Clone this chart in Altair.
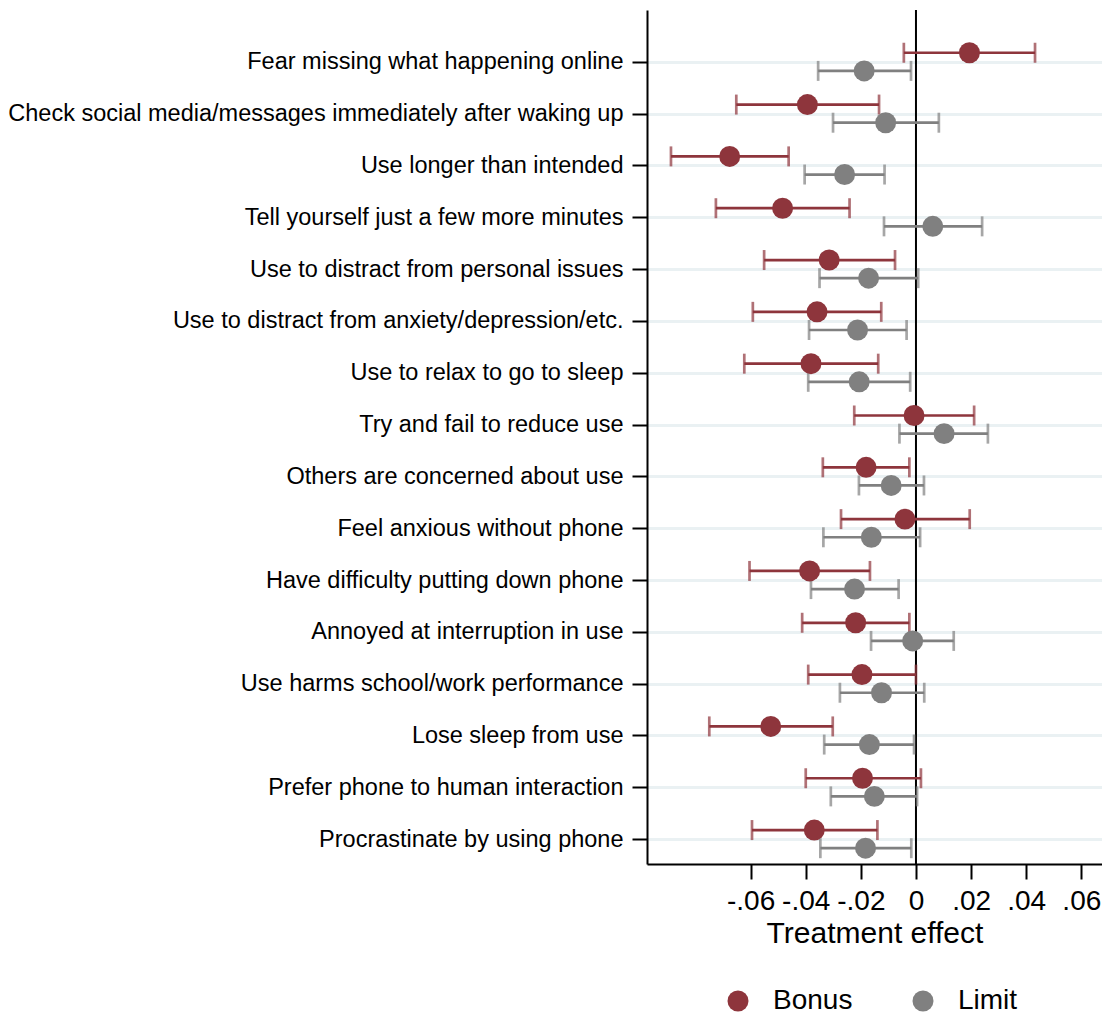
import json
import altair as alt
import pandas as pd

categories = [
    "Fear missing what happening online",
    "Check social media/messages immediately after waking up",
    "Use longer than intended",
    "Tell yourself just a few more minutes",
    "Use to distract from personal issues",
    "Use to distract from anxiety/depression/etc.",
    "Use to relax to go to sleep",
    "Try and fail to reduce use",
    "Others are concerned about use",
    "Feel anxious without phone",
    "Have difficulty putting down phone\u00a0",
    "Annoyed at interruption in use",
    "Use harms school/work performance",
    "Lose sleep from use",
    "Prefer phone to human interaction",
    "Procrastinate by using phone",
]

bonus_est = [0.0194, -0.0394, -0.0676, -0.0484, -0.0315, -0.0359, -0.0381, -0.0007,
             -0.0181, -0.0040, -0.0386, -0.0219, -0.0196, -0.0527, -0.0194, -0.0369]
bonus_lo = [-0.0044, -0.0652, -0.0889, -0.0726, -0.0551, -0.0592, -0.0623, -0.0224,
            -0.0338, -0.0272, -0.0604, -0.0413, -0.0391, -0.0750, -0.0400, -0.0595]
bonus_hi = [0.0432, -0.0134, -0.0462, -0.0241, -0.0076, -0.0126, -0.0137, 0.0211,
            -0.0024, 0.0195, -0.0167, -0.0024, 0.0000, -0.0302, 0.0018, -0.0140]

limit_est = [-0.0188, -0.0110, -0.0259, 0.0061, -0.0172, -0.0212, -0.0206, 0.0102,
             -0.0090, -0.0162, -0.0223, -0.0012, -0.0125, -0.0169, -0.0151, -0.0183]
limit_lo = [-0.0355, -0.0301, -0.0404, -0.0116, -0.0350, -0.0388, -0.0391, -0.0060,
            -0.0207, -0.0336, -0.0381, -0.0163, -0.0276, -0.0333, -0.0309, -0.0347]
limit_hi = [-0.0018, 0.0083, -0.0114, 0.0240, 0.0008, -0.0034, -0.0021, 0.0261,
            0.0029, 0.0015, -0.0063, 0.0137, 0.0030, -0.0007, 0.0004, -0.0017]

series_names = ["Bonus", "Limit"]
series_colors = ["#8E353C", "#808080"]
x_ticks = [-0.06, -0.04, -0.02, 0, 0.02, 0.04, 0.06]

DODGE = 0.175
FONT = "Liberation Sans"

rows = []
for name, est, lo, hi, off in [
    ("Bonus", bonus_est, bonus_lo, bonus_hi, -DODGE),
    ("Limit", limit_est, limit_lo, limit_hi, DODGE),
]:
    for i, c in enumerate(categories):
        rows.append(dict(item=c, idx=i, series=name, est=est[i], lo=lo[i], hi=hi[i], ypos=i + off))
df = pd.DataFrame(rows)

xscale = alt.Scale(domain=[-0.0976, 0.0675], nice=False, zero=False)
yscale = alt.Scale(domain=[-1.0, 15.48], reverse=True, nice=False, zero=False)
cscale = alt.Scale(domain=series_names, range=series_colors)

label_arr = json.dumps(categories, ensure_ascii=False)

x_axis = alt.Axis(
    values=x_ticks,
    labelExpr="datum.value == 0 ? '0' : (datum.value < 0 ? '-' : '') + replace(format(abs(datum.value), '.2f'), '0.', '.')",
    title="Treatment effect",
    titleFontSize=30, titleFont=FONT, titleFontWeight="normal", titleColor="black",
    titlePadding=3,
    labelFontSize=28, labelFont=FONT, labelColor="black", labelPadding=8,
    labelOverlap=False, labelFlush=False,
    tickSize=15, tickWidth=2, tickColor="black",
    domainColor="black", domainWidth=2, grid=False,
)
y_axis = alt.Axis(
    values=list(range(len(categories))),
    labelExpr=f"{label_arr}[round(datum.value)]",
    title=None,
    labelFontSize=23.5, labelFont=FONT, labelColor="black", labelPadding=9,
    labelOverlap=False, labelFlush=False, labelLimit=1000,
    tickSize=15, tickWidth=2, tickColor="black",
    domainColor="black", domainWidth=2,
    grid=True, gridColor="#EAF1F3", gridWidth=3,
)

legend = alt.Legend(
    title=None, orient="none", direction="horizontal",
    legendX=77, legendY=977,
    symbolType="circle", symbolSize=440, symbolOpacity=1,
    symbolStrokeWidth=0, symbolStrokeColor="transparent",
    labelFontSize=28, labelFont=FONT, labelColor="black",
    labelOffset=21, columnPadding=56,
)
color = alt.Color("series:N", scale=cscale, legend=legend)

base = alt.Chart(df)

zero = alt.Chart(pd.DataFrame({"z": [0]})).mark_rule(color="black", strokeWidth=2).encode(
    x=alt.X("z:Q", scale=xscale, axis=x_axis)
)

bars = base.mark_rule(strokeWidth=2.7).encode(
    x=alt.X("lo:Q", scale=xscale, axis=x_axis),
    x2="hi:Q",
    y=alt.Y("ypos:Q", scale=yscale, axis=y_axis),
    color=color,
)
caps_lo = base.mark_tick(orient="vertical", thickness=2.7, size=20).encode(
    x=alt.X("lo:Q", scale=xscale),
    y=alt.Y("ypos:Q", scale=yscale),
    color=color,
)
caps_hi = base.mark_tick(orient="vertical", thickness=2.7, size=20).encode(
    x=alt.X("hi:Q", scale=xscale),
    y=alt.Y("ypos:Q", scale=yscale),
    color=color,
)
points = base.mark_circle(size=440, opacity=1).encode(
    x=alt.X("est:Q", scale=xscale),
    y=alt.Y("ypos:Q", scale=yscale),
    color=color,
)

chart = alt.layer(zero, bars, caps_lo, caps_hi, points).properties(
    width=455, height=854,
    padding={"left": 639, "top": 2, "right": 0, "bottom": 152},
    autosize=alt.AutoSizeParams(type="none"),
).configure_view(stroke=None)

chart.save("out.html", embed_options={"renderer": "svg", "actions": False})
